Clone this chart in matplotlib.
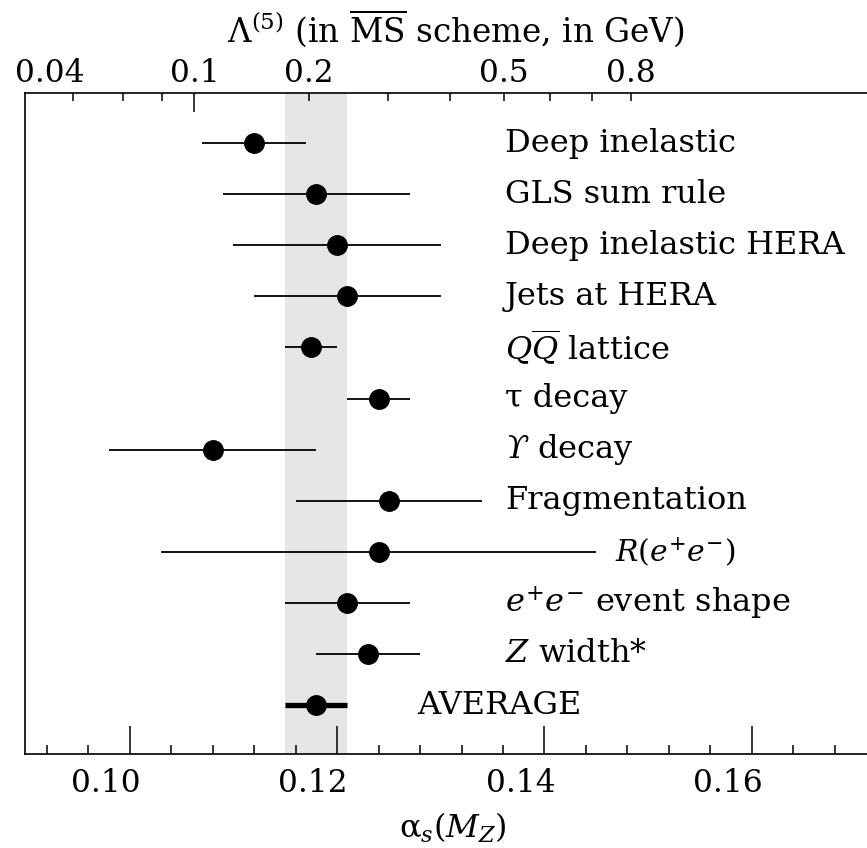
import numpy as np
import matplotlib as mpl
mpl.use("Agg")
import matplotlib.pyplot as plt
from matplotlib.transforms import ScaledTranslation

# =============================================================================
# Data: alpha_s(M_Z) determinations, top row first
# =============================================================================
labels = ["Deep inelastic", "GLS sum rule", "Deep inelastic HERA", "Jets at HERA",
          r"$Q\overline{Q}$ lattice", "τ decay", r"$\mathit{ϒ}$ decay", "Fragmentation",
          r"$R(e^{+}e^{-})$", r"$e^{+}e^{-}$ event shape", r"$Z$ width*", "AVERAGE"]
alpha_s = [0.112, 0.118, 0.120, 0.121, 0.1175, 0.124, 0.108, 0.125, 0.124, 0.121, 0.123, 0.118]
alpha_err = [0.005, 0.009, 0.010, 0.009, 0.0025, 0.003, 0.010, 0.009, 0.021, 0.006, 0.005, 0.003]
avg_band = (0.115, 0.121)

bottom_ticks = [0.10, 0.12, 0.14, 0.16]
bottom_ticklabels = ["0.10", "0.12", "0.14", "0.16"]
lambda_major = [0.1]
lambda_minor = [0.04, 0.06, 0.08, 0.2, 0.3, 0.4, 0.5, 0.6, 0.7, 0.8]
lambda_minor_labels = ["0.04", "", "", "0.2", "", "", "0.5", "", "", "0.8"]


def alpha_from_lambda(lam, nf=5, mz=91.187):
    # 3-loop running coupling in the MS-bar scheme
    b0 = 11 - 2 / 3 * nf
    b1 = 51 - 19 / 3 * nf
    b2 = 2857 - 5033 / 9 * nf + 325 / 27 * nf ** 2
    L = np.log(mz ** 2 / np.asarray(lam) ** 2)
    lnL = np.log(L)
    return 4 * np.pi / (b0 * L) * (1 - 2 * b1 / b0 ** 2 * lnL / L
                                   + 4 * b1 ** 2 / (b0 ** 4 * L ** 2)
                                   * ((lnL - 0.5) ** 2 + b2 * b0 / (8 * b1 ** 2) - 1.25))


# =============================================================================
# Plot
# =============================================================================
plt.rcParams["font.family"] = ["DejaVu Serif"]
plt.rcParams["mathtext.fontset"] = "dejavuserif"

fig = plt.figure(figsize=(8.67, 8.48), dpi=100)
ax = fig.add_axes([0.0288, 0.1108, 0.9712, 0.7795])

rows = np.arange(len(labels))
n = len(labels) - 1

ax.axvspan(*avg_band, color="#e5e5e5", lw=0, zorder=0)
ax.errorbar(alpha_s[:n], rows[:n], xerr=alpha_err[:n], fmt="o", color="black",
            ms=14, elinewidth=1.3, capsize=0, zorder=3)
ax.errorbar(alpha_s[n:], rows[n:], xerr=alpha_err[n:], fmt="o", color="black",
            ms=14, elinewidth=3.8, capsize=0, zorder=3)

fs = 23
for i, lab in enumerate(labels):
    if lab.startswith("$R"):
        ax.text(0.1584, i, lab, ha="right", va="center", fontsize=21.5)
    elif lab == "AVERAGE":
        ax.text(0.1277, i, lab, ha="left", va="center", fontsize=fs)
    else:
        ax.text(0.1362, i, lab, ha="left", va="center", fontsize=fs)

ax.set_xlim(0.0899, 0.1711)
ax.set_ylim(11.96, -0.98)
ax.set_yticks([])
ax.spines["right"].set_visible(False)
ax.spines["top"].set_visible(False)
for s in ["left", "bottom"]:
    ax.spines[s].set_linewidth(1.2)

ax.set_xticks(bottom_ticks)
ax.set_xticklabels(bottom_ticklabels)
ax.set_xticks(np.arange(0.092, 0.1701, 0.004), minor=True)
ax.tick_params(axis="x", which="major", direction="in", length=20, width=1.1,
               labelsize=22.5, pad=10)
ax.tick_params(axis="x", which="minor", direction="in", length=6.5, width=1.1)
ax.set_xlabel("α$_s(M_Z)$", fontsize=23)
ax.xaxis.set_label_coords(0.508, -0.112)
ax.xaxis.label.set_va("center")

shift = ScaledTranslation(-0.24, 0, fig.dpi_scale_trans)
for lab in ax.xaxis.get_majorticklabels():
    lab.set_transform(lab.get_transform() + shift)

# top axis in Lambda^(5)
top = ax.twiny()
top.set_xlim(ax.get_xlim())
for s in ["left", "bottom", "right"]:
    top.spines[s].set_visible(False)
top.spines["top"].set_linewidth(1.2)
top.set_xticks(alpha_from_lambda(lambda_major))
top.set_xticklabels(["0.1"])
top.set_xticks(alpha_from_lambda(lambda_minor), minor=True)
top.set_xticklabels(lambda_minor_labels, minor=True)
top.tick_params(axis="x", which="major", direction="in", length=14, width=1.1,
                labelsize=22.5, pad=3)
top.tick_params(axis="x", which="minor", direction="in", length=6, width=1.1,
                labelsize=22.5, pad=3)
top.set_xlabel(r"Λ$^{(5)}$ (in $\overline{\mathrm{MS}}$ scheme, in GeV)", fontsize=23.5)
top.xaxis.set_label_coords(0.511, 1.098)
top.xaxis.label.set_va("center")

shift04 = ScaledTranslation(-0.23, 0, fig.dpi_scale_trans)
first = top.xaxis.get_minorticklabels()[0]
first.set_transform(first.get_transform() + shift04)

fig.savefig("out.png", dpi=100)
plt.close()
